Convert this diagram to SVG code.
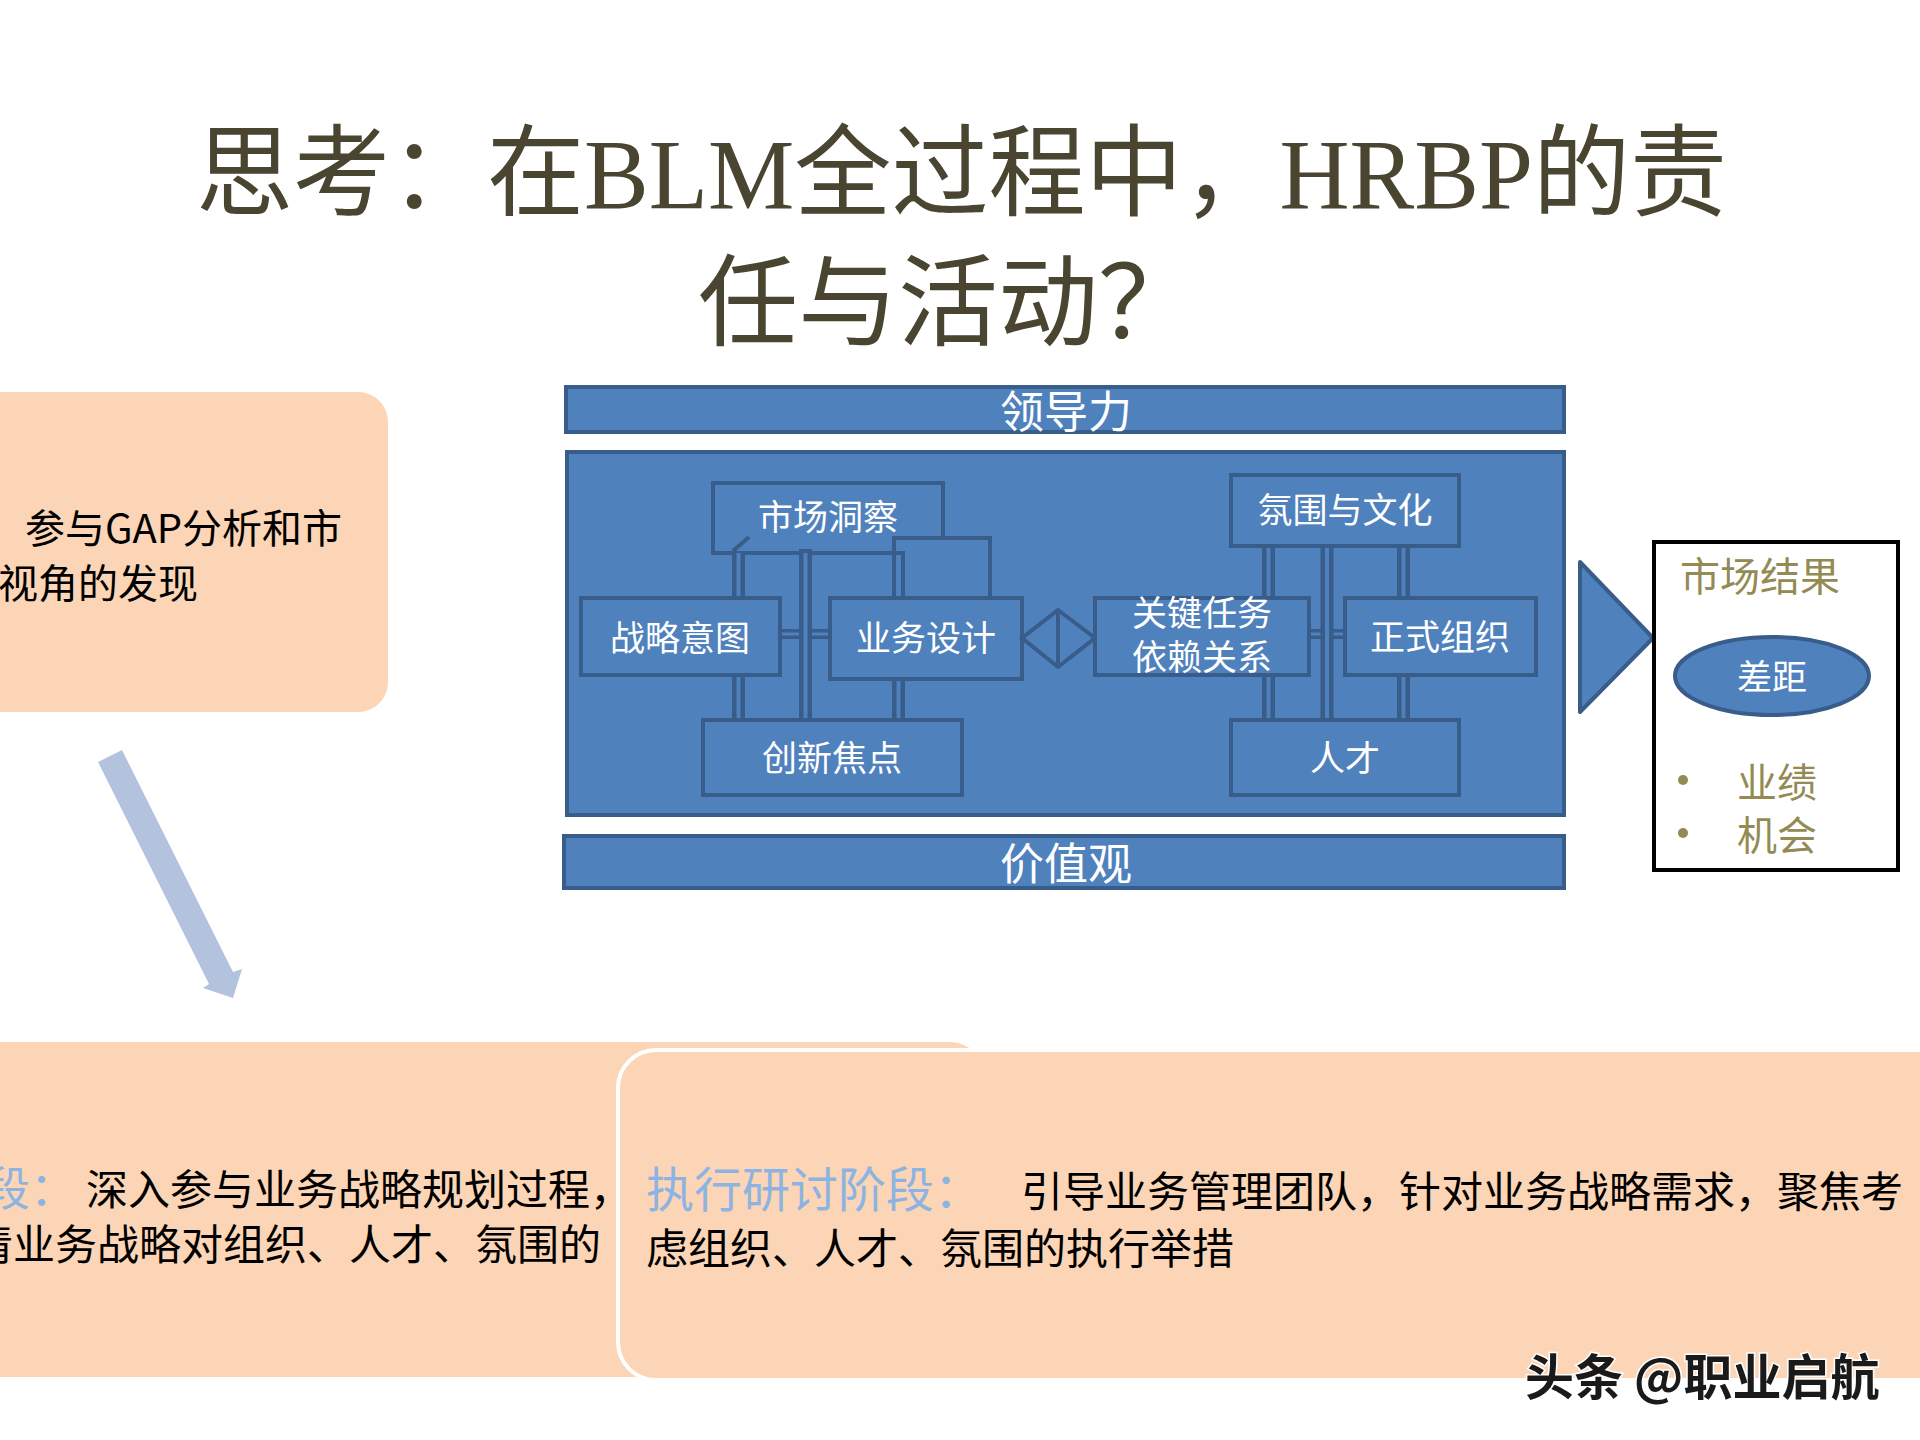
<svg xmlns="http://www.w3.org/2000/svg" width="1920" height="1440" viewBox="0 0 1920 1440">
<style>
.cjk{font-family:"Noto Sans CJK SC","Noto Sans",sans-serif}
.title{font-family:"Liberation Serif","Noto Sans CJK SC",serif;fill:#4A4531;font-size:100px}
.box{fill:#4F81BD;stroke:#385D8A;stroke-width:4}
.lbl{font-family:"Noto Sans CJK SC",sans-serif;fill:#FFFFFF;font-size:35px;text-anchor:middle}
.bar{font-family:"Noto Sans CJK SC",sans-serif;fill:#FFFFFF;font-size:44px;text-anchor:middle}
.peach{fill:#FBD5B5}
.dl-o{fill:none;stroke:#385D8A;stroke-width:13}
.dl-i{fill:none;stroke:#4F81BD;stroke-width:4}
.hl-o{fill:none;stroke:#385D8A;stroke-width:10}
.hl-i{fill:none;stroke:#4F81BD;stroke-width:3}
.olive{fill:#948A54}
.body{font-family:"Noto Sans CJK SC",sans-serif;fill:#000000;font-size:42px}
.blue{font-family:"Noto Sans CJK SC",sans-serif;fill:#8DB3E2}
</style>
<rect x="0" y="0" width="1920" height="1440" fill="#FFFFFF"/>

<g id="title">
<text class="title" x="196" y="208" textLength="1531" lengthAdjust="spacingAndGlyphs">思考：在BLM全过程中，HRBP的责</text>
<text class="title" x="698" y="338">任与活动？</text>
</g>

<g id="gap-box">
<rect class="peach" x="-40" y="392" width="428" height="320" rx="30"/>
<text class="cjk" font-size="40" fill="#000" x="25" y="543">参与GAP分析和市</text>
<text class="cjk" font-size="40" fill="#000" x="-2" y="598">视角的发现</text>
</g>

<g id="down-arrow">
<polygon points="98,762 122,750 233,972 242,969 233,998 203,988 209,984" fill="#B3C3DE"/>
</g>

<g id="leadership">
<rect class="box" x="566" y="387" width="998" height="45"/>
<text class="bar" x="1066" y="428">领导力</text>
</g>

<g id="main-frame">
<rect class="box" x="567" y="452" width="997" height="363"/>
</g>

<g id="values">
<rect class="box" x="564" y="836" width="1000" height="52"/>
<text class="bar" x="1066" y="880">价值观</text>
</g>

<g id="market-insight">
<rect class="box" x="713" y="483" width="230" height="70"/>
<text class="lbl" x="828" y="530">市场洞察</text>
</g>
<g id="small-rect">
<rect class="box" x="894" y="538" width="96" height="62"/>
</g>

<g id="connectors">
<line x1="733" y1="551" x2="749" y2="537" stroke="#385D8A" stroke-width="4"/>
<path d="M805 553 H903 V600" fill="none" stroke="#385D8A" stroke-width="4"/>
<line class="dl-o" x1="738.5" y1="553" x2="738.5" y2="598"/><line class="dl-i" x1="738.5" y1="553" x2="738.5" y2="598"/>
<line class="dl-o" x1="738.5" y1="675" x2="738.5" y2="722"/><line class="dl-i" x1="738.5" y1="677" x2="738.5" y2="720"/>
<line class="hl-o" x1="780" y1="634" x2="830" y2="634"/><line class="hl-i" x1="780" y1="634" x2="830" y2="634"/>
<line class="dl-o" x1="805.5" y1="549" x2="805.5" y2="720"/><line class="dl-i" x1="805.5" y1="553" x2="805.5" y2="718"/>
<line class="dl-o" x1="898.5" y1="679" x2="898.5" y2="720"/><line class="dl-i" x1="898.5" y1="681" x2="898.5" y2="718"/>
<line class="dl-o" x1="1268.5" y1="546" x2="1268.5" y2="598"/><line class="dl-i" x1="1268.5" y1="548" x2="1268.5" y2="598"/>
<line class="dl-o" x1="1268.5" y1="675" x2="1268.5" y2="722"/><line class="dl-i" x1="1268.5" y1="677" x2="1268.5" y2="720"/>
<line class="hl-o" x1="1309" y1="634" x2="1345" y2="634"/><line class="hl-i" x1="1309" y1="634" x2="1345" y2="634"/>
<line class="dl-o" x1="1327" y1="546" x2="1327" y2="720"/><line class="dl-i" x1="1327" y1="548" x2="1327" y2="718"/>
<line class="dl-o" x1="1403.5" y1="542" x2="1403.5" y2="598"/><line class="dl-i" x1="1403.5" y1="544" x2="1403.5" y2="598"/>
<line class="dl-o" x1="1403.5" y1="675" x2="1403.5" y2="720"/><line class="dl-i" x1="1403.5" y1="677" x2="1403.5" y2="718"/>
</g>

<g id="strategic-intent">
<rect class="box" x="581" y="598" width="199" height="77"/>
<text class="lbl" x="680" y="651">战略意图</text>
</g>
<g id="business-design">
<rect class="box" x="830" y="598" width="192" height="81"/>
<text class="lbl" x="926" y="651">业务设计</text>
</g>
<g id="innovation-focus">
<rect class="box" x="703" y="720" width="259" height="75"/>
<text class="lbl" x="832" y="771">创新焦点</text>
</g>
<g id="diamond">
<polygon class="box" points="1022,638 1058,610 1095,638 1058,667" stroke-linejoin="miter"/>
<line x1="1058" y1="610" x2="1058" y2="667" stroke="#385D8A" stroke-width="4"/>
</g>
<g id="culture">
<rect class="box" x="1231" y="475" width="228" height="71"/>
<text class="lbl" x="1345" y="523">氛围与文化</text>
</g>
<g id="critical-tasks">
<rect class="box" x="1095" y="598" width="214" height="77"/>
<text class="lbl" x="1202" y="626">关键任务</text>
<text class="lbl" x="1202" y="670">依赖关系</text>
</g>
<g id="formal-org">
<rect class="box" x="1345" y="598" width="191" height="77"/>
<text class="lbl" x="1440" y="650">正式组织</text>
</g>
<g id="talent">
<rect class="box" x="1231" y="720" width="228" height="75"/>
<text class="lbl" x="1345" y="771">人才</text>
</g>

<g id="result-arrow">
<polygon class="box" points="1580,562 1653,638 1580,712" stroke-linejoin="round"/>
</g>

<g id="market-result">
<rect x="1654" y="542" width="244" height="328" fill="#FFFFFF" stroke="#000000" stroke-width="4"/>
<text class="cjk olive" font-size="40" x="1680" y="591">市场结果</text>
<ellipse class="box" cx="1772" cy="676" rx="97" ry="39"/>
<text class="lbl" font-size="34" x="1772" y="690">差距</text>
<circle class="olive" cx="1683" cy="780" r="5"/>
<circle class="olive" cx="1683" cy="833" r="5"/>
<text class="cjk olive" font-size="40" x="1737" y="797">业绩</text>
<text class="cjk olive" font-size="40" x="1737" y="850">机会</text>
</g>

<g id="planning-box">
<rect class="peach" x="-40" y="1042" width="1025" height="335" rx="35"/>
<text class="blue" font-size="46" x="-16" y="1205">段：</text>
<text class="body" x="86" y="1205">深入参与业务战略规划过程，</text>
<text class="body" x="-29" y="1260">清业务战略对组织、人才、氛围的</text>
</g>

<g id="execution-box">
<rect class="peach" x="618" y="1050" width="1342" height="330" rx="38" stroke="#FFFFFF" stroke-width="4"/>
<text class="blue" font-size="48" x="646" y="1207">执行研讨阶段：</text>
<text class="body" x="1021" y="1207">引导业务管理团队，针对业务战略需求，聚焦考</text>
<text class="body" x="646" y="1264">虑组织、人才、氛围的执行举措</text>
</g>

<g id="watermark">
<text x="1525" y="1395" font-family="Noto Sans CJK SC, sans-serif" font-size="49" font-weight="bold" fill="#1A1A1A" stroke="#FFFFFF" stroke-width="3" paint-order="stroke">头条 @职业启航</text>
</g>
</svg>
